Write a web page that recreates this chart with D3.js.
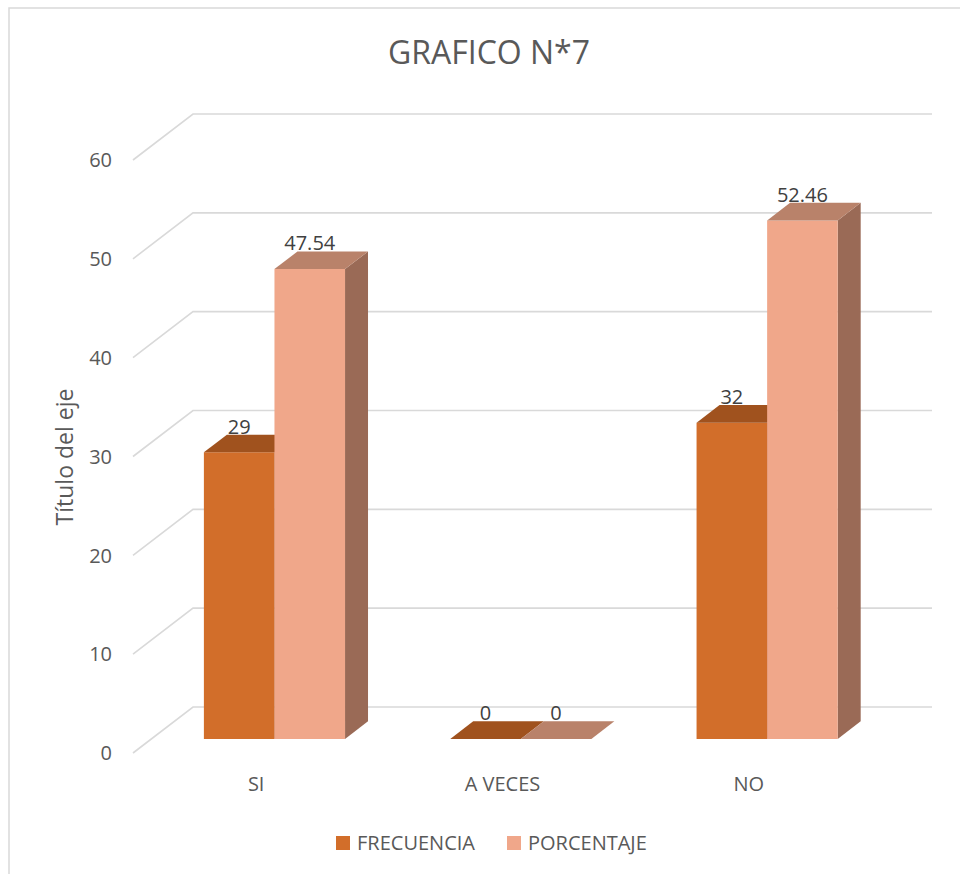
<!DOCTYPE html>
<html>
<head>
<meta charset="utf-8">
<script src="https://cdn.jsdelivr.net/npm/d3@7"></script>
<style>
  html, body { margin: 0; padding: 0; background: #fff; }
  svg { display: block; font-family: "Open Sans", sans-serif; }
</style>
</head>
<body>
<svg id="chart" width="960" height="874"></svg>
<script>
// Chart data
const categories = ["SI", "A VECES", "NO"];
const seriesNames = ["FRECUENCIA", "PORCENTAJE"];
const frecuencia = [29, 0, 32];
const porcentaje = [47.54, 0, 52.46];
const yTicks = [0, 10, 20, 30, 40, 50, 60];
const titleText = "GRAFICO N*7";
const axisTitle = "Título del eje";

const seriesValues = [frecuencia, porcentaje];

// Face colours per series: front, top, side
const faceColors = {
  FRECUENCIA: { front: "#D26E2A", top: "#A0521E", side: "#8E4A1C" },
  PORCENTAJE: { front: "#F0A78A", top: "#B9826A", side: "#9A6A56" }
};

const svg = d3.select("#chart");

// Outer frame
svg.append("rect")
  .attr("x", 9).attr("y", 8)
  .attr("width", 980).attr("height", 900)
  .attr("fill", "#fff")
  .attr("stroke", "#d9d9d9").attr("stroke-width", 1.5);

// 3D projection: depth z in [0,1] shifts right and up
const depthX = 60, depthY = 46;
const y = d3.scaleLinear().domain([0, 60]).range([753, 160]);
const x = d3.scaleBand().domain(categories).range([133, 872]).padding(0);
const groupFrac = 0.573;
const xs = d3.scaleBand().domain(seriesNames)
  .range([x.bandwidth() * (1 - groupFrac) / 2, x.bandwidth() * (1 + groupFrac) / 2])
  .padding(0);
const z0 = 0.305, z1 = 0.688;   // bar front and back depth
const px = (xv, z) => xv + z * depthX;
const py = (v, z) => y(v) - z * depthY;

// Gridlines: side-wall diagonal plus back-wall horizontal
const grid = svg.append("g").attr("stroke", "#d9d9d9").attr("stroke-width", 1.6).attr("fill", "none");
yTicks.forEach(t => {
  grid.append("path").attr("d", d3.line()([
    [px(133, 0), py(t, 0)],
    [px(133, 1), py(t, 1)],
    [px(872, 1), py(t, 1)]
  ]));
});

// Y tick labels
svg.append("g").selectAll("text").data(yTicks).join("text")
  .attr("x", 112).attr("y", d => y(d)).attr("dy", "0.36em")
  .attr("text-anchor", "end")
  .attr("font-size", 20).attr("fill", "#595959")
  .text(d => d);

// Axis title
svg.append("text")
  .attr("transform", "translate(73,457) rotate(-90)")
  .attr("text-anchor", "middle")
  .attr("font-size", 23).attr("fill", "#595959")
  .text(axisTitle);

// Bars
const bars = svg.append("g");
const poly = pts => d3.line()(pts) + "Z";
categories.forEach((cat, ci) => {
  seriesNames.forEach((s, si) => {
    const v = seriesValues[si][ci];
    const xl = x(cat) + xs(s);
    const xr = xl + xs.bandwidth();
    const c = faceColors[s];
    const g = bars.append("g");
    // side face
    g.append("path").attr("fill", c.side).attr("d", poly([
      [px(xr, z0), py(v, z0)], [px(xr, z1), py(v, z1)],
      [px(xr, z1), py(0, z1)], [px(xr, z0), py(0, z0)]
    ]));
    // front face
    g.append("path").attr("fill", c.front).attr("d", poly([
      [px(xl, z0), py(v, z0)], [px(xr, z0), py(v, z0)],
      [px(xr, z0), py(0, z0)], [px(xl, z0), py(0, z0)]
    ]));
    // top face
    g.append("path").attr("fill", c.top).attr("d", poly([
      [px(xl, z0), py(v, z0)], [px(xr, z0), py(v, z0)],
      [px(xr, z1), py(v, z1)], [px(xl, z1), py(v, z1)]
    ]));
  });
});

// Data labels
categories.forEach((cat, ci) => {
  seriesNames.forEach((s, si) => {
    const v = seriesValues[si][ci];
    const xc = x(cat) + xs(s) + xs.bandwidth() / 2;
    svg.append("text")
      .attr("x", px(xc, z0)).attr("y", py(v, z1) - 1)
      .attr("text-anchor", "middle")
      .attr("font-size", 20).attr("fill", "#404040")
      .text(v);
  });
});

// Category labels
svg.append("g").selectAll("text").data(categories).join("text")
  .attr("x", d => x(d) + x.bandwidth() / 2).attr("y", 791)
  .attr("text-anchor", "middle")
  .attr("font-size", 20).attr("fill", "#595959")
  .text(d => d);

// Title
svg.append("text")
  .attr("x", 489).attr("y", 64)
  .attr("text-anchor", "middle")
  .attr("font-size", 32).attr("fill", "#595959")
  .text(titleText);

// Legend
const legendX = [336, 507];
const legend = svg.append("g").selectAll("g").data(seriesNames).join("g")
  .attr("transform", (d, i) => `translate(${legendX[i]},836)`);
legend.append("rect").attr("width", 14).attr("height", 14)
  .attr("fill", d => faceColors[d].front);
legend.append("text").attr("x", 21).attr("y", 14)
  .attr("font-size", 20).attr("fill", "#595959")
  .text(d => d);
</script>
</body>
</html>
